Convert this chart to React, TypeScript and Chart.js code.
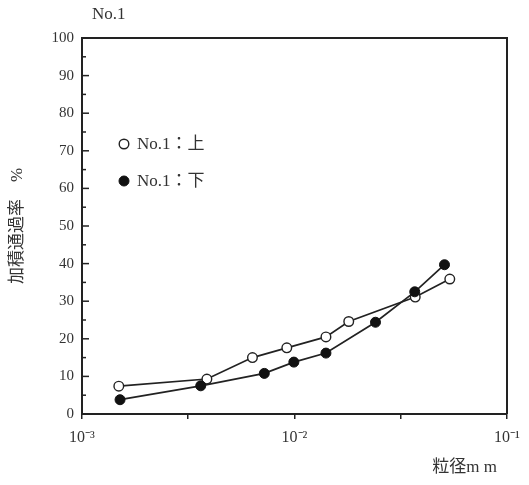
import React, { useEffect, useRef } from "react";
import { Chart, registerables } from "chart.js";

Chart.register(...registerables);

// ---- data ----
const chartTitle = "No.1";
const seriesLabels = ["No.1：上", "No.1：下"];
const yAxisTitle = "加積通過率　%";
const xAxisTitle = "粒径m m";

// particle size (mm) and cumulative passing (%)
const upperSize = [0.00149, 0.00387, 0.00634, 0.0092, 0.01406, 0.018, 0.037, 0.0538];
const upperPass = [7.4, 9.3, 15.0, 17.6, 20.5, 24.6, 31.1, 35.9];
const lowerSize = [0.00151, 0.00362, 0.00721, 0.00993, 0.01406, 0.02405, 0.0368, 0.0508];
const lowerPass = [3.8, 7.5, 10.8, 13.8, 16.2, 24.4, 32.5, 39.7];

const xMajorTicks = [0.001, 0.01, 0.1];
const xMajorLabels = ["10⁻³", "10⁻²", "10⁻¹"];
const xMinorTicks = [0.00316, 0.0316];
const yMin = 0;
const yMax = 100;
const yStep = 10;

const INK = "#222";
const TEXT = "#333";
const SERIF = '"Liberation Serif", "Noto Sans CJK JP", serif';

export default function App() {
  const ref = useRef<HTMLCanvasElement>(null);

  useEffect(() => {
    const deco = {
      id: "deco",
      afterDraw(chart: any) {
        const { ctx, chartArea } = chart;
        const { left, right, top, bottom } = chartArea;
        const ys = chart.scales.y;
        ctx.save();
        // top and right frame
        ctx.strokeStyle = INK;
        ctx.lineWidth = 2;
        ctx.beginPath();
        ctx.moveTo(left - 1, top);
        ctx.lineTo(right, top);
        ctx.lineTo(right, bottom);
        ctx.stroke();
        // inward y ticks
        ctx.lineWidth = 1.5;
        for (let v = yMin; v <= yMax; v += yStep / 2) {
          const y = ys.getPixelForValue(v);
          const major = Math.abs(v % yStep) < 1e-9;
          ctx.beginPath();
          ctx.moveTo(left, y);
          ctx.lineTo(left + (major ? 7 : 4), y);
          ctx.stroke();
        }
        // title
        ctx.fillStyle = TEXT;
        ctx.font = `17px ${SERIF}`;
        ctx.textAlign = "left";
        ctx.textBaseline = "middle";
        ctx.fillText(chartTitle, left + 10, 15);
        // x-axis title
        ctx.font = `17px ${SERIF}`;
        ctx.textAlign = "right";
        ctx.fillText(xAxisTitle, right - 10, 468);
        // legend
        const ds = chart.data.datasets;
        ds.forEach((d: any, i: number) => {
          const cy = top + 106 + i * 37;
          const cx = left + 42;
          ctx.beginPath();
          ctx.arc(cx, cy, d.pointRadius, 0, Math.PI * 2);
          ctx.fillStyle = d.pointBackgroundColor;
          ctx.fill();
          ctx.lineWidth = d.pointBorderWidth;
          ctx.strokeStyle = d.pointBorderColor;
          ctx.stroke();
          ctx.fillStyle = TEXT;
          ctx.font = `17px ${SERIF}`;
          ctx.textAlign = "left";
          ctx.textBaseline = "middle";
          ctx.fillText(d.label, left + 55, cy + 1);
        });
        ctx.restore();
      },
    };

    const chart = new Chart(ref.current!, {
      type: "scatter",
      data: {
        datasets: [
          {
            label: seriesLabels[0],
            data: upperSize.map((x, i) => ({ x, y: upperPass[i] })),
            showLine: true,
            borderColor: INK,
            borderWidth: 1.7,
            pointBackgroundColor: "#fff",
            pointBorderColor: INK,
            pointBorderWidth: 1.4,
            pointRadius: 4.8,
            order: 1,
          },
          {
            label: seriesLabels[1],
            data: lowerSize.map((x, i) => ({ x, y: lowerPass[i] })),
            showLine: true,
            borderColor: INK,
            borderWidth: 1.7,
            pointBackgroundColor: "#111",
            pointBorderColor: "#111",
            pointBorderWidth: 1,
            pointRadius: 5,
            order: 0,
          },
        ],
      },
      options: {
        animation: false,
        responsive: true,
        maintainAspectRatio: false,
        layout: { padding: { top: 38, right: 22, left: 0, bottom: 0 } },
        plugins: {
          legend: { display: false },
          title: { display: false },
          tooltip: { enabled: false },
        },
        scales: {
          x: {
            type: "logarithmic",
            min: xMajorTicks[0],
            max: xMajorTicks[xMajorTicks.length - 1],
            position: "bottom",
            afterBuildTicks: (s: any) => {
              s.ticks = [...xMajorTicks, ...xMinorTicks]
                .sort((a, b) => a - b)
                .map((v) => ({ value: v }));
            },
            afterFit: (s: any) => {
              s.height = 71;
            },
            ticks: {
              autoSkip: false,
              maxRotation: 0,
              padding: 9,
              color: TEXT,
              font: { family: SERIF, size: 16 },
              callback: (v: any) => {
                const i = xMajorTicks.findIndex(
                  (t) => Math.abs(Math.log10(t) - Math.log10(Number(v))) < 1e-6
                );
                return i >= 0 ? xMajorLabels[i] : "";
              },
            },
            grid: {
              display: true,
              drawOnChartArea: false,
              drawTicks: true,
              tickLength: 5,
              color: INK,
              lineWidth: 1.5,
            },
            border: { display: true, color: INK, width: 2 },
          },
          y: {
            min: yMin,
            max: yMax,
            afterFit: (s: any) => {
              s.width = 82;
            },
            ticks: {
              stepSize: yStep,
              padding: 8,
              color: TEXT,
              font: { family: SERIF, size: 15 },
            },
            grid: { display: false, drawTicks: false },
            border: { display: true, color: INK, width: 2 },
            title: {
              display: true,
              text: yAxisTitle,
              color: TEXT,
              font: { family: SERIF, size: 17 },
              padding: { top: 7, bottom: 0 },
            },
          },
        },
      },
      plugins: [deco],
    } as any);
    return () => chart.destroy();
  }, []);

  return (
    <div
      style={{
        position: "fixed",
        left: 0,
        top: 0,
        width: 529,
        height: 485,
        background: "#fff",
      }}
    >
      <canvas ref={ref} />
    </div>
  );
}
